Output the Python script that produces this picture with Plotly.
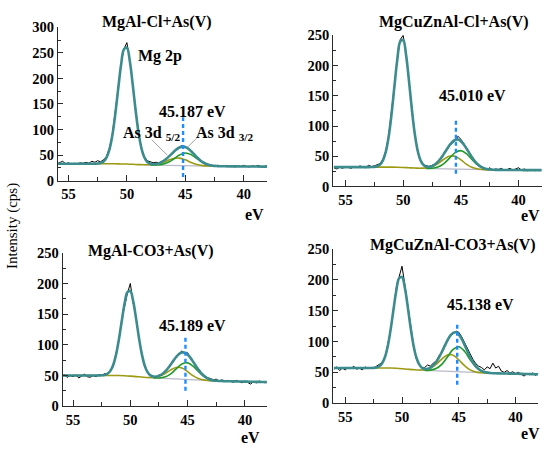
import plotly.graph_objects as go

# binding energy grid (eV), raw scan and fitted envelope share it
EV = [56.0, 55.75, 55.5, 55.25, 55.0, 54.75, 54.5, 54.25, 54.0, 53.75, 53.5, 53.25, 53.0,
      52.75, 52.5, 52.25, 52.0, 51.75, 51.5, 51.25, 51.0, 50.75, 50.5, 50.25, 50.0,
      49.75, 49.5, 49.25, 49.0, 48.75, 48.5, 48.25, 48.0,
      47.75, 47.5, 47.25, 47.0, 46.75, 46.5, 46.25, 46.0, 45.75, 45.5, 45.25, 45.0,
      44.75, 44.5, 44.25, 44.0, 43.75, 43.5, 43.25, 43.0,
      42.75, 42.5, 42.25, 42.0, 41.75, 41.5, 41.25, 41.0, 40.75, 40.5, 40.25, 40.0,
      39.75, 39.5, 39.25, 39.0, 38.75, 38.5, 38.25, 38.0]
BG_EV = [56.0, 55.5, 55.0, 54.5, 54.0, 53.5, 53.0, 52.5, 52.0, 51.5, 51.0, 50.5, 50.0, 49.5,
         49.0, 48.5, 48.0, 47.5, 47.0, 46.5, 46.0, 45.5, 45.0, 44.5, 44.0, 43.5, 43.0, 42.5]
COMP_EV = [48.0, 47.5, 47.0, 46.5, 46.0, 45.5, 45.0, 44.5, 44.0, 43.5, 43.0, 42.5, 42.0]
BASE_EV = [48.5, 42.0]

TITLES = ["MgAl-Cl+As(V)", "MgCuZnAl-Cl+As(V)", "MgAl-CO3+As(V)", "MgCuZnAl-CO3+As(V)"]
PEAK_LABELS = ["45.187 eV", "45.010 eV", "45.189 eV", "45.138 eV"]
PEAK_EV = [45.187, 45.43, 45.189, 45.138]
DASH_LOW = [7, 21, 25, 30]
DASH_HIGH = [124, 112, 116, 130]
Y_MAX = [300, 250, 250, 250]

# MgAl-Cl+As(V)
RAW_1 = [33, 35, 38, 33, 35, 32, 34, 33, 35, 34, 36, 34, 38,
         36, 39, 37, 41, 47, 63, 90, 131, 180, 228, 258, 270, 236, 186, 139, 95, 62, 47, 39, 37,
         35, 36, 35, 38, 41, 44, 51, 57, 60, 66, 69, 66, 63, 59, 52, 47, 41, 35, 34, 31,
         30, 29, 30, 28, 29, 30, 28, 29, 27, 29, 28, 30, 28, 27, 29, 28, 30, 27, 28, 29]
FIT_1 = [33, 33, 33, 33, 33, 33, 33, 33, 33, 33, 33, 33, 33,
         33.2, 33.5, 34.5, 37.6, 45.1, 60.6, 88, 128.9, 178.5, 226.2, 257.2, 260, 233.8, 187.9,
         137.1, 93.6, 63.3, 45.4, 36.5, 33.2,
         32.3, 32.6, 34.2, 36.8, 40.4, 45.1, 50.5, 56.2, 61.3, 64.9, 66.6, 65.8, 62.6, 57.6,
         51.9, 45.9, 40.6, 36.3, 33.1, 31.0,
         29.6, 28.9, 28.55, 28.3, 28.2, 28.1, 28.1, 28.0, 28.0, 28.0, 27.9, 27.9, 27.8, 27.8,
         27.7, 27.7, 27.6, 27.6, 27.5, 27.5]
OLIVE_1 = [33, 33, 33, 33, 33, 33, 33, 33, 33, 33, 33, 32.8, 32.5, 32, 31.5, 31.1, 31.1, 32.1,
           34.9, 39.4, 43.5, 44.2, 40.8, 35.6, 31.6, 29.5, 28.6, 28.3]
GREEN_1 = [30.7, 30.75, 31.9, 35.5, 42.3, 50.1, 54.2, 51.0, 43.1, 35.4, 30.8, 28.9, 28.3]
BASE_1 = [31.0, 28.2]

# MgCuZnAl-Cl+As(V)
RAW_2 = [31, 29, 32, 30, 33, 31, 30, 33, 31, 34, 32, 31, 35,
         33, 34, 36, 38, 45, 59, 85, 122, 168, 212, 243, 250, 220, 176, 130, 87, 58, 45, 36, 34,
         33, 35, 37, 41, 45, 53, 59, 67, 72, 76, 83, 78, 71, 63, 55, 48, 41, 36, 33, 30,
         28, 31, 27, 29, 28, 30, 27, 28, 30, 27, 29, 31, 27, 29, 26, 28, 27, 26, 28, 27]
FIT_2 = [32, 32, 32, 32, 32, 32, 32, 32, 32, 32, 32, 32, 32,
         32.1, 32.4, 33.4, 36.3, 43.2, 57.6, 82.9, 120.8, 166.7, 210.9, 239.6, 242.2, 217.9, 175.4,
         128.4, 88.0, 59.9, 43.4, 35.6, 32.6,
         32.4, 33.5, 36.4, 40.6, 46.2, 53.1, 60.5, 67.8, 73.6, 77.1, 77.7, 74.9, 69.5, 62.3,
         54.5, 47.0, 40.7, 35.8, 32.4, 30.1,
         28.75, 28.1, 27.75, 27.5, 27.45, 27.4, 27.35, 27.3, 27.25, 27.2, 27.2, 27.2, 27.15, 27.1,
         27.1, 27.1, 27.05, 27.0, 27.0, 27.0]
OLIVE_2 = [32, 32, 32, 32, 32, 32, 32, 32, 32, 32, 32, 31.8, 31.5, 31, 30.5, 30.2, 30.7, 32.7,
           37.6, 44.6, 50.0, 49.8, 44.0, 36.6, 31.3, 28.8, 27.8, 27.5]
GREEN_2 = [29.8, 30.2, 32.2, 37.5, 46.6, 55.9, 59.3, 53.9, 43.7, 34.8, 29.9, 28.1, 27.5]
BASE_2 = [30.0, 27.5]

# MgAl-CO3+As(V)
RAW_3 = [49, 51, 47, 50, 48, 51, 46, 49, 52, 48, 47, 50, 48,
         51, 50, 53, 52, 58, 64, 85, 106, 141, 165, 184, 200, 168, 145, 110, 87, 64, 57, 50, 49,
         47, 51, 50, 57, 60, 69, 72, 81, 86, 90, 86, 87, 77, 73, 63, 60, 53, 50, 46, 45,
         43, 44, 41, 43, 40, 42, 41, 39, 42, 40, 38, 41, 39, 36, 40, 38, 41, 39, 38, 40]
FIT_3 = [50, 50, 50, 50, 50, 50, 50, 50, 50, 50, 50, 50, 50,
         50.1, 50.3, 50.9, 52.8, 57.4, 66.8, 83.5, 108.4, 138.4, 167.3, 185.9, 187.5, 171.2, 143.1,
         111.9, 85.2, 66.5, 55.4, 50.2, 48.2,
         48.2, 49.4, 52.0, 55.8, 61.0, 67.1, 73.8, 80.1, 85.0, 87.5, 87.2, 84.1, 78.7, 71.8,
         64.6, 58.0, 52.4, 48.2, 45.2, 43.2,
         42.0, 41.4, 41.1, 40.9, 40.7, 40.6, 40.5, 40.4, 40.3, 40.2, 40.1, 40.0, 39.9, 39.8,
         39.7, 39.6, 39.5, 39.4, 39.3, 39.2]
OLIVE_3 = [50, 50, 50, 50, 50, 50, 50, 50, 50, 50, 50, 49.6, 49, 48.2, 47.4, 46.7, 46.8, 48.6,
           52.8, 58.8, 63.1, 62.1, 56.3, 49.4, 44.7, 42.4, 41.35, 41.0]
GREEN_3 = [45.95, 46.0, 47.6, 52.3, 60.6, 68.6, 70.6, 64.8, 55.3, 47.4, 43.0, 41.4, 40.9]
BASE_3 = [46.6, 40.9]

# MgCuZnAl-CO3+As(V)
RAW_4 = [55, 59, 53, 57, 54, 58, 56, 60, 55, 57, 54, 59, 56,
         58, 57, 60, 62, 66, 74, 95, 118, 150, 188, 205, 222, 192, 160, 122, 96, 73, 62, 57, 58,
         62, 60, 65, 68, 77, 82, 95, 100, 110, 112, 117, 115, 108, 98, 88, 80, 71, 64, 60, 58,
         54, 59, 56, 65, 57, 60, 52, 50, 53, 49, 51, 48, 50, 47, 44, 48, 46, 49, 45, 48]
FIT_4 = [57, 57, 57, 57, 57, 57, 57, 57, 57, 57, 57, 57, 57,
         57.1, 57.3, 58.0, 60.0, 64.9, 75.0, 92.9, 119.6, 151.8, 182.8, 202.7, 204.4, 187.0, 156.9,
         123.5, 94.9, 74.9, 63.3, 57.6, 55.7,
         56.0, 57.9, 61.5, 66.9, 74.0, 82.8, 92.4, 101.8, 109.5, 114.0, 114.9, 111.3, 104.3, 94.9,
         84.6, 74.8, 66.4, 59.9, 55.4, 52.3,
         50.5, 49.6, 49.1, 48.7, 48.5, 48.4, 48.3, 48.2, 48.1, 48.0, 47.9, 47.8, 47.7, 47.6,
         47.5, 47.4, 47.3, 47.2, 47.1, 47.0]
OLIVE_4 = [57, 57, 57, 57, 57, 57, 57, 57, 57, 57, 57, 56.6, 56, 55.2, 54.4, 53.9, 54.2, 56.8,
           62.9, 71.6, 78.3, 77.9, 70.4, 60.9, 54.0, 50.6, 49.3, 48.8]
GREEN_4 = [53.15, 53.7, 56.2, 63.0, 74.9, 87.1, 91.5, 84.2, 70.6, 58.7, 52.0, 49.6, 48.7]
BASE_4 = [53.6, 48.7]

# leader lines from the As 3d labels (first panel), [eV pair], [intensity pair]
LEADER_EV = [[47.87, 46.54], [44.03, 44.88]]
LEADER_I = [[80, 50], [83, 64]]

RAWS = [RAW_1, RAW_2, RAW_3, RAW_4]
FITS = [FIT_1, FIT_2, FIT_3, FIT_4]
OLIVES = [OLIVE_1, OLIVE_2, OLIVE_3, OLIVE_4]
GREENS = [GREEN_1, GREEN_2, GREEN_3, GREEN_4]
BASES = [BASE_1, BASE_2, BASE_3, BASE_4]

for r, f in zip(RAWS, FITS):
    assert len(r) == len(EV) and len(f) == len(EV)

W, H = 550, 454
SERIF = "Liberation Serif"


def px(x, y):
    '''pixel position -> paper coords'''
    return x / W, 1 - y / H


# plot boxes in pixels: left, right, bottom, top
BOXES = [(58, 267, 179, 20), (333.3, 541.7, 185, 28.3),
         (62.7, 266.7, 412.7, 253.7), (333.3, 538.3, 409.7, 249.7)]
X_RANGES = [[55.9, 38.0], [56.05, 38.0], [55.9, 38.1], [56.05, 38.0]]

TEAL = "#3c8c8e"
GREEN = "#1f9a28"
OLIVE = "#9c9a12"
GRAY = "#b9b9c9"
BLUE = "#1e8cff"
AX = "#2a2a2a"

fig = go.Figure()
layout = {}

for i in range(4):
    n = "" if i == 0 else str(i + 1)
    xa, ya = "x" + n, "y" + n
    l, r, b, t = BOXES[i]
    x0, y0 = px(l, b)
    x1, y1 = px(r, t)
    tick_font = dict(family=SERIF, size=14.5, color="black", weight="bold")
    layout["xaxis" + n] = dict(
        domain=[x0, x1], anchor=ya, range=X_RANGES[i],
        tickvals=[55, 50, 45, 40], ticks="inside", ticklen=6, tickwidth=1.3, tickcolor=AX,
        minor=dict(tickvals=[52.5, 47.5, 42.5], ticks="inside", ticklen=4, tickwidth=1.3,
                   tickcolor=AX, showgrid=False),
        showline=True, linecolor=AX, linewidth=1.3, showgrid=False, zeroline=False,
        tickfont=tick_font)
    yvals = list(range(0, Y_MAX[i] + 1, 50))
    layout["yaxis" + n] = dict(
        domain=[y0, y1], anchor=xa, range=[0, Y_MAX[i]],
        tickvals=yvals, ticks="inside", ticklen=5, tickwidth=1.3, tickcolor=AX,
        minor=dict(tickvals=[v + 25 for v in yvals[:-1]], ticks="inside", ticklen=3,
                   tickwidth=1.3, tickcolor=AX, showgrid=False),
        showline=True, linecolor=AX, linewidth=1.3, showgrid=False, zeroline=False,
        tickfont=tick_font)

    fig.add_trace(go.Scatter(x=BASE_EV, y=BASES[i], mode="lines", xaxis=xa, yaxis=ya,
                             line=dict(color=GRAY, width=1.2)))
    fig.add_trace(go.Scatter(x=BG_EV, y=OLIVES[i], mode="lines", xaxis=xa, yaxis=ya,
                             line=dict(color=OLIVE, width=1.6, shape="spline")))
    fig.add_trace(go.Scatter(x=COMP_EV, y=GREENS[i], mode="lines", xaxis=xa, yaxis=ya,
                             line=dict(color=GREEN, width=1.6, shape="spline")))
    fig.add_trace(go.Scatter(x=EV, y=RAWS[i], mode="lines", xaxis=xa, yaxis=ya,
                             line=dict(color="black", width=1)))
    fig.add_trace(go.Scatter(x=EV, y=FITS[i], mode="lines", xaxis=xa, yaxis=ya,
                             line=dict(color=TEAL, width=2.6, shape="spline")))
    fig.add_trace(go.Scatter(x=[PEAK_EV[i], PEAK_EV[i]], y=[DASH_LOW[i], DASH_HIGH[i]],
                             mode="lines", xaxis=xa, yaxis=ya,
                             line=dict(color=BLUE, width=2.4, dash="4px,3px")))

# thin gray leader lines in the first panel
for ex, iy in zip(LEADER_EV, LEADER_I):
    fig.add_trace(go.Scatter(x=ex, y=iy, mode="lines", xaxis="x", yaxis="y",
                             line=dict(color="#8a8a8a", width=0.8)))

annotations = []


def label(text, x, y, size=15, bold=True, angle=0):
    ax, ay = px(x, y)
    annotations.append(dict(text=text, x=ax, y=ay, xref="paper", yref="paper",
                            xanchor="center", yanchor="middle", showarrow=False,
                            textangle=angle,
                            font=dict(family=SERIF, size=size, color="black",
                                      weight="bold" if bold else "normal")))


title_pos = [(157, 15), (454, 14), (151, 252), (453, 246)]
peak_pos = [(192, 107), (472, 91), (192, 329), (480, 307)]
ev_pos = [(254, 214), (530, 215), (250, 445), (530, 441)]
for i in range(4):
    label(TITLES[i], *title_pos[i], size=16)
    label(PEAK_LABELS[i], *peak_pos[i], size=16)
    label("eV", *ev_pos[i], size=16)

label("Mg 2p", 160, 50, size=16)
label("As 3d <sub>5/2</sub>", 151, 130, size=16)
label("As 3d <sub>3/2</sub>", 224, 130, size=16)
label("Intensity (cps)", 12, 226, size=15, bold=False, angle=-90)

fig.update_layout(layout)
fig.update_layout(width=W, height=H, margin=dict(l=0, r=0, t=0, b=0),
                  paper_bgcolor="white", plot_bgcolor="white", showlegend=False,
                  annotations=annotations)

# the page body has a default 8px margin; drop it so the figure sits at 0,0
fig.write_html("out.html", config={"displayModeBar": False},
               post_script="document.body.style.margin='0';")
